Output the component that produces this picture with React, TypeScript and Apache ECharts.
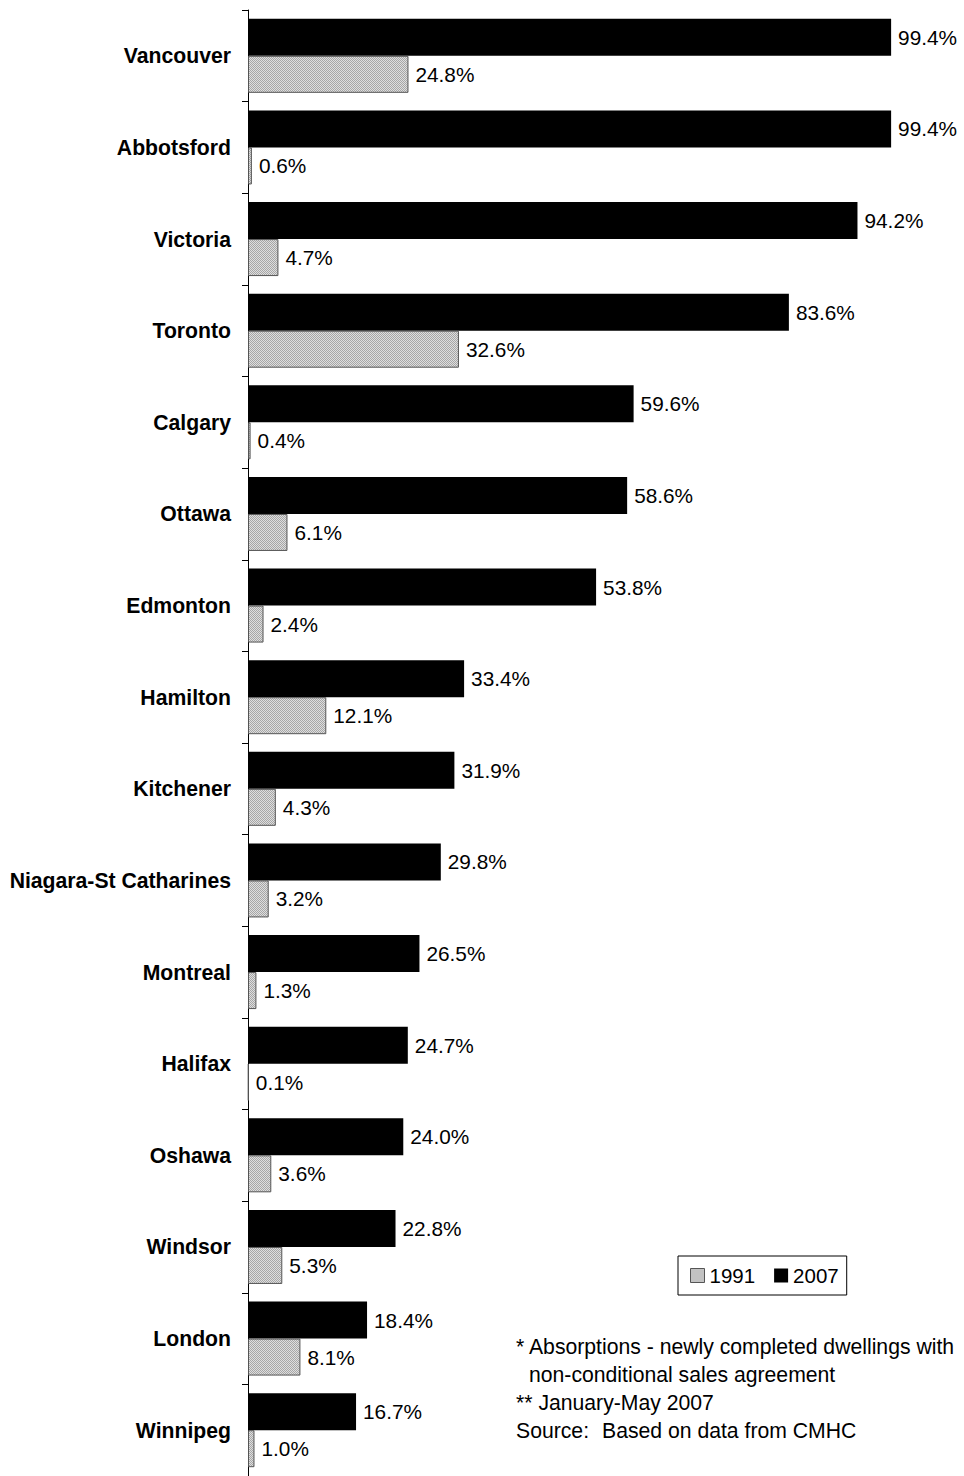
import React, { useEffect, useRef } from "react";
import * as echarts from "echarts";

const cities = [
  "Vancouver", "Abbotsford", "Victoria", "Toronto", "Calgary", "Ottawa", "Edmonton", "Hamilton",
  "Kitchener", "Niagara-St Catharines", "Montreal", "Halifax", "Oshawa", "Windsor", "London", "Winnipeg",
];
const values2007 = [99.4, 99.4, 94.2, 83.6, 59.6, 58.6, 53.8, 33.4, 31.9, 29.8, 26.5, 24.7, 24.0, 22.8, 18.4, 16.7];
const values1991 = [24.8, 0.6, 4.7, 32.6, 0.4, 6.1, 2.4, 12.1, 4.3, 3.2, 1.3, 0.1, 3.6, 5.3, 8.1, 1.0];
const footnotes = [
  "* Absorptions - newly completed dwellings with",
  "non-conditional sales agreement",
  "** January-May 2007",
];

const FONT = "'Liberation Sans', Arial, sans-serif";
const FS = 21.2;

function makePattern(): any {
  const c = document.createElement("canvas");
  c.width = 2;
  c.height = 2;
  const ctx = c.getContext("2d")!;
  ctx.fillStyle = "#dedede";
  ctx.fillRect(0, 0, 2, 2);
  ctx.fillStyle = "#a6a6a6";
  ctx.fillRect(0, 0, 1, 1);
  ctx.fillRect(1, 1, 1, 1);
  return { image: c.toDataURL(), repeat: "repeat" };
}

export default function App() {
  const ref = useRef<HTMLDivElement>(null);
  useEffect(() => {
    if (!ref.current) return;
    const chart = echarts.init(ref.current, null, { renderer: "svg" });
    const pattern = makePattern();
    const labelFmt = (p: any) => p.value.toFixed(1) + "%";
    chart.setOption({
      animation: false,
      grid: { left: 248, top: 10, width: 647, height: 1469 },
      xAxis: { type: "value", min: 0, max: 100, show: false },
      yAxis: {
        type: "category",
        inverse: true,
        data: cities,
        axisLine: { lineStyle: { color: "#000", width: 1 } },
        axisTick: { show: true, length: 6, lineStyle: { color: "#000", width: 1 } },
        axisLabel: { margin: 17, color: "#000", fontWeight: "bold", fontSize: FS, fontFamily: FONT },
        splitLine: { show: false },
      },
      legend: {
        left: 678,
        top: 1256,
        padding: [9, 8, 9, 12],
        borderColor: "#000",
        borderWidth: 1,
        itemWidth: 14,
        itemHeight: 14,
        itemGap: 19,
        icon: "rect",
        data: [
          { name: "1991", itemStyle: { borderColor: "#555", borderWidth: 1 } },
          { name: "2007" },
        ],
        textStyle: { fontSize: 20.5, color: "#000", fontFamily: FONT },
      },
      series: [
        {
          name: "2007",
          type: "bar",
          data: values2007,
          barWidth: 37,
          barGap: "0%",
          itemStyle: { color: "#000" },
          label: { show: true, position: "right", distance: 7, color: "#000", fontSize: 20.8, fontFamily: FONT, formatter: labelFmt },
        },
        {
          name: "1991",
          type: "bar",
          data: values1991,
          barWidth: 37,
          barGap: "0%",
          itemStyle: { color: pattern, borderColor: "#555", borderWidth: 1 },
          label: { show: true, position: "right", distance: 7, color: "#000", fontSize: 20.8, fontFamily: FONT, formatter: labelFmt },
        },
      ],
      graphic: [
        ...footnotes.map((t, i) => ({
          type: "text",
          left: i === 1 ? 529 : 516,
          top: 1336 + i * 28,
          style: { text: t, fontSize: FS, fill: "#000", fontFamily: FONT },
        })),
        { type: "text", left: 516, top: 1336 + 3 * 28, style: { text: "Source:", fontSize: FS, fill: "#000", fontFamily: FONT } },
        { type: "text", left: 602, top: 1336 + 3 * 28, style: { text: "Based on data from CMHC", fontSize: FS, fill: "#000", fontFamily: FONT } },
      ],
    });
    return () => chart.dispose();
  }, []);
  return <div ref={ref} style={{ position: "absolute", left: 0, top: 0, width: 964, height: 1476 }} />;
}
